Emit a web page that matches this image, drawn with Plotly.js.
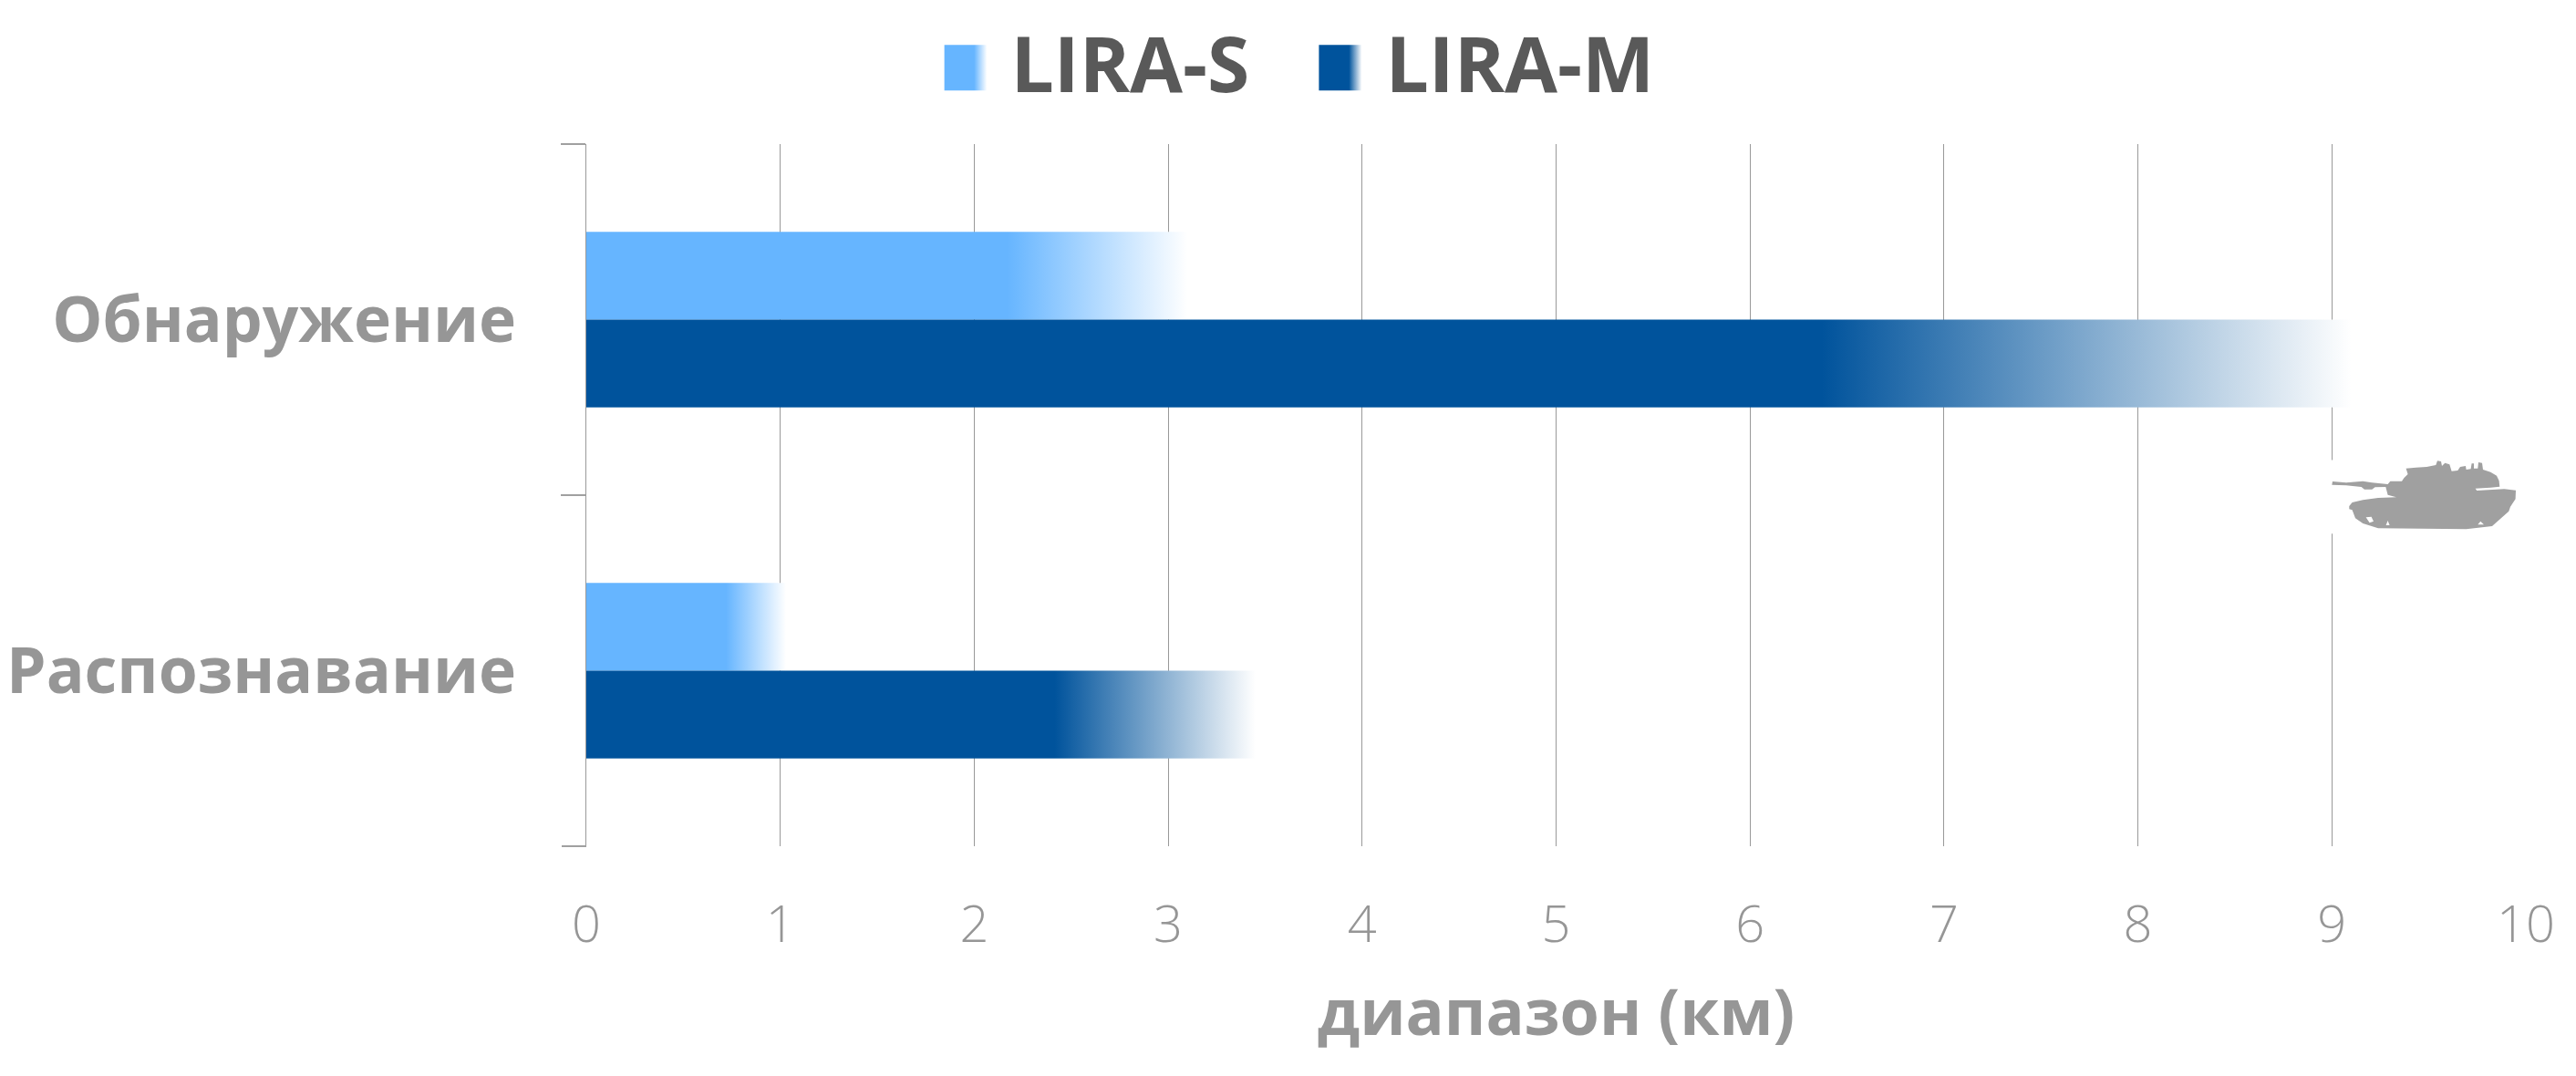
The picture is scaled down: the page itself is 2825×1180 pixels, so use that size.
<!DOCTYPE html>
<html><head><meta charset="utf-8">
<script src="https://cdn.plot.ly/plotly-3.0.1.min.js"></script>
<style>html,body{margin:0;padding:0;background:#fff}</style></head>
<body><div id="chart" style="width:2825px;height:1180px"></div>
<script>
const categories = ['Обнаружение', 'Распознавание'];
const liraS = [3.1, 1.03];
const liraM = [9.1, 3.45];
const tickValues = [0,1,2,3,4,5,6,7,8,9,10];
const tankOutline = [[170,174],[168,185],[215,187],[265,192],[275,200],[300,200],[310,193],[345,192],[352,218],[380,226],[320,228],[270,235],[235,243],[225,255],[225,265],[235,268],[245,295],[270,312],[320,328],[610,331],[695,321],[750,272],[755,257],[772,232],[773,203],[735,199],[645,204],[640,197],[690,194],[720,191],[718,172],[710,155],[690,143],[665,135],[662,113],[650,111],[648,131],[635,131],[635,115],[628,115],[625,133],[610,135],[608,123],[590,126],[582,138],[562,140],[555,118],[540,113],[530,123],[527,108],[515,106],[510,120],[480,126],[445,128],[412,131],[418,150],[405,163],[398,173],[360,173],[352,183],[300,178],[270,173],[215,178]];
const tankHoles = [[[280,292],[298,290],[305,305],[292,310]],[[346,318],[352,303],[358,318]],[[648,316],[657,305],[668,316]]];

const font = 'Open Sans, sans-serif';
const grey = '#969696';
const tankPath = [tankOutline].concat(tankHoles).map(o =>
  'M' + o.map(p => (p[0]/3 - 56).toFixed(1) + ',' + (-(p[1]/3) + 73).toFixed(1)).join('L') + 'Z').join(' ');

const data = [
  {type:'bar', orientation:'h', name:'LIRA-S', y:categories, x:liraS, marker:{color:'#66B5FF', line:{width:0}}},
  {type:'bar', orientation:'h', name:'LIRA-M', y:categories, x:liraM, marker:{color:'#00539C', line:{width:0}}}
];
const layout = {
  width:2825, height:1180, autosize:false,
  margin:{l:643, r:55, t:157.6, b:251.6, pad:0},
  paper_bgcolor:'#fff', plot_bgcolor:'#fff',
  barmode:'group', bargap:0.5, bargroupgap:0,
  showlegend:true,
  legend:{orientation:'h', x:0.512, xref:'container', xanchor:'center', y:0.994, yref:'container', yanchor:'top',
          font:{family:font, size:84, weight:700, color:'#595959'}, itemwidth:63, entrywidth:333, entrywidthmode:'pixels',
          itemclick:false, traceorder:'normal'},
  xaxis:{range:[0,10], tickvals:tickValues, ticktext:tickValues.map(String), showgrid:true, gridcolor:'#999999', gridwidth:1,
         zeroline:false, showline:false, ticks:'', ticklabelstandoff:48,
         tickfont:{family:font, size:56, weight:300, color:grey},
         title:{text:'диапазон (км)', standoff:37, font:{family:font, size:70, weight:700, color:grey}}},
  yaxis:{type:'category', categoryorder:'array', categoryarray:categories, autorange:false, range:[1.5,-0.5],
         tickson:'boundaries', ticks:'outside', ticklen:27, tickwidth:2, tickcolor:'#a0a0a0',
         showline:true, linecolor:'#999999', linewidth:1, showgrid:false, zeroline:false, ticklabelstandoff:62,
         tickfont:{family:font, size:69.5, weight:700, color:grey}},
  shapes:[
    {type:'rect', xref:'x', yref:'paper', x0:8.99, x1:9.95, y0:0.445, y1:0.55, fillcolor:'#fff', line:{width:0}, layer:'above'},
    {type:'path', xref:'x', yref:'y', xsizemode:'pixel', ysizemode:'pixel', xanchor:9, yanchor:0.5, path:tankPath,
     fillcolor:'#A0A0A0', line:{width:0}, layer:'above'},
    {type:'line', xref:'paper', yref:'paper', x0:-0.0127, x1:0, y0:0, y1:0, line:{color:'#a0a0a0', width:2}}
  ]
};

function gradient(svg, id, color, stop) {
  const ns = 'http://www.w3.org/2000/svg';
  let defs = svg.querySelector('defs');
  const g = document.createElementNS(ns, 'linearGradient');
  g.setAttribute('id', id);
  g.setAttribute('x1','0'); g.setAttribute('x2','1'); g.setAttribute('y1','0'); g.setAttribute('y2','0');
  [[stop,color],[1,'#ffffff']].forEach(s => {
    const e = document.createElementNS(ns,'stop');
    e.setAttribute('offset', s[0]); e.setAttribute('stop-color', s[1]);
    g.appendChild(e);
  });
  defs.appendChild(g);
}

Plotly.newPlot('chart', data, layout, {displayModeBar:false, staticPlot:true}).then(gd => {
  const svg = gd.querySelector('svg.main-svg');
  const colors = ['#66B5FF','#00539C'];
  gd.querySelectorAll('.barlayer .trace.bars').forEach((t,i) => {
    gradient(svg, 'bg'+i, colors[i], 0.7);
    t.querySelectorAll('.point path').forEach(p => { p.style.fill = 'url(#bg'+i+')'; p.style.fillOpacity = 1; });
  });
  gd.querySelectorAll('.legend .traces').forEach((t,i) => {
    gradient(svg, 'lg'+i, colors[i], 0.7);
    const path = t.querySelector('.legendpoints path');
    if (path) {
      path.setAttribute('d','M47,31H0V-19H47Z');
      path.style.fill = 'url(#lg'+i+')';
      path.style.stroke = 'none';
      path.setAttribute('transform','translate(0,0)');
    }
  });
});
</script></body></html>
